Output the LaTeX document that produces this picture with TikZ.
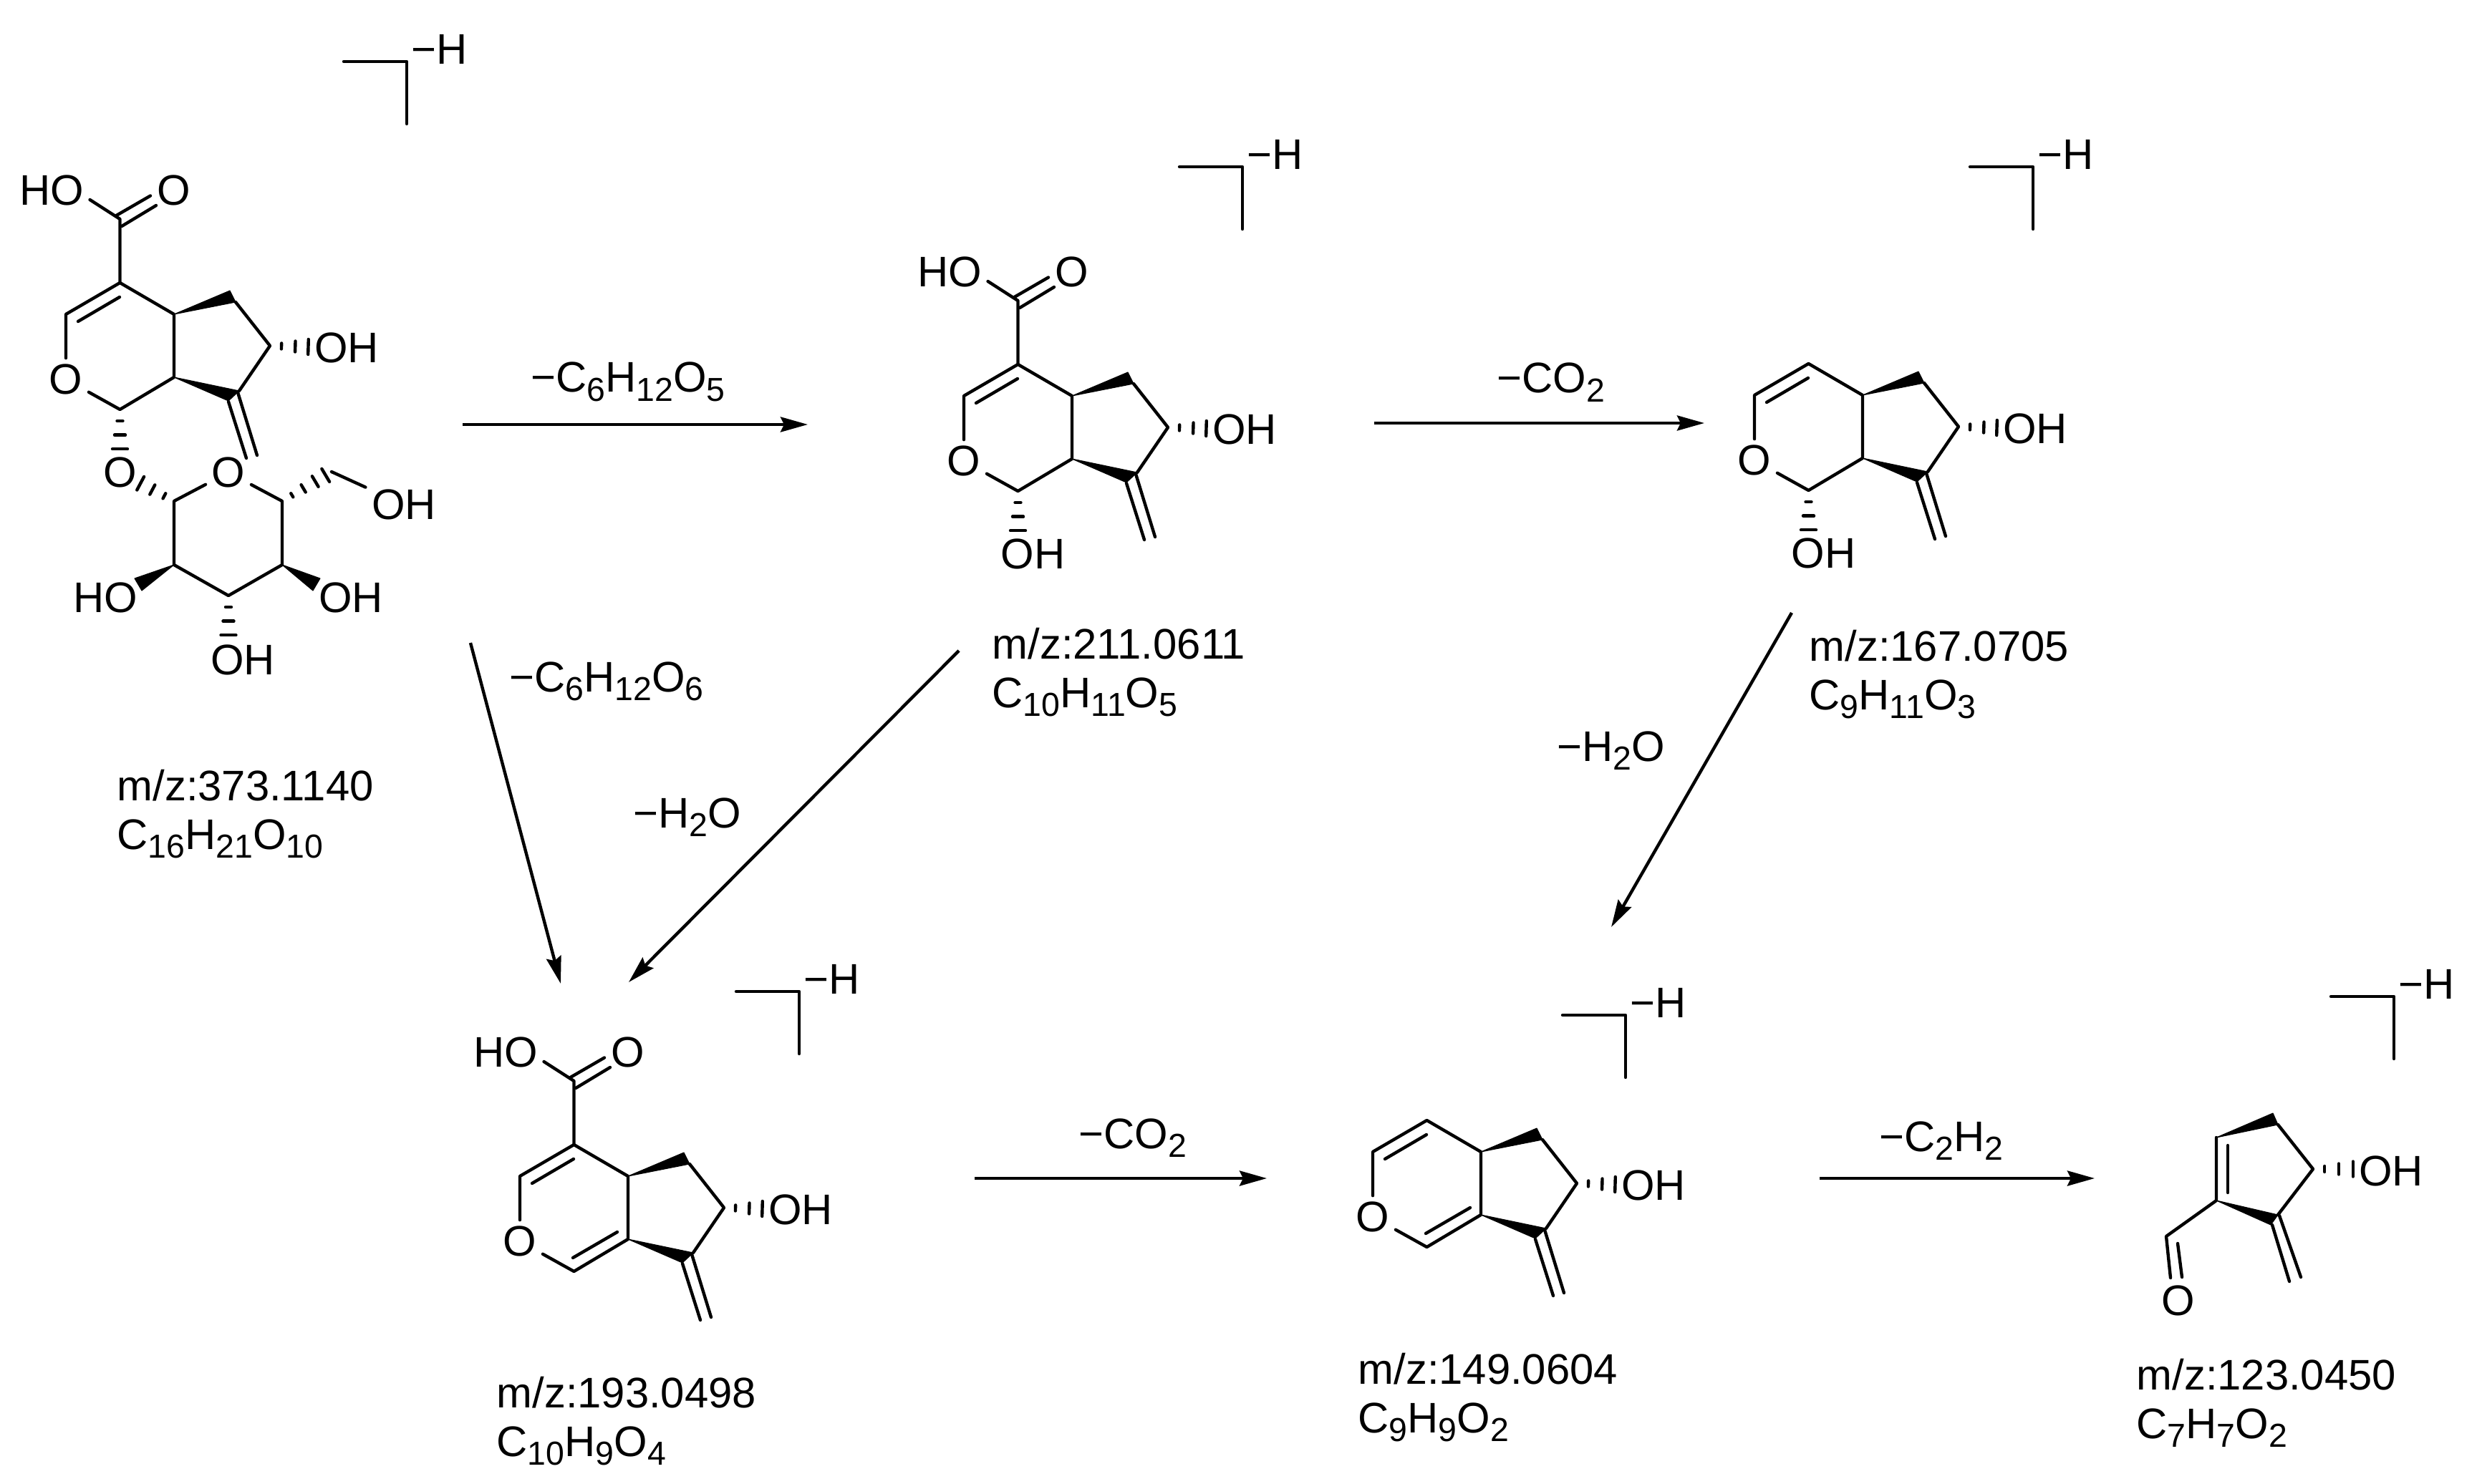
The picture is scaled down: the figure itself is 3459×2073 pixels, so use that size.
\documentclass[tikz,border=0pt]{standalone}
\usepackage{fontspec}
\setmainfont{Liberation Sans}
\usetikzlibrary{arrows.meta, calc}
\newcommand{\chemsub}[1]{\raisebox{-0.12cm}{\fontsize{13.2}{13}\selectfont #1}}
\newcommand{\hashbond}[3][.18/.04,.40/.075,.62/.105]{
    \foreach \f/\w in {#1} {
        \draw[bond] ($(#2)!\f!(#3)!\w cm!90:(#3)$) -- ($(#2)!\f!(#3)!\w cm!-90:(#3)$);
    }
}
\tikzset{
    bond/.style={line width=1.25pt, line cap=round, line join=round},
    wedge/.style={fill=black, draw=black, line width=.3pt, line join=round},
    atom/.style={inner sep=.08cm, font=\fontsize{17}{20}\selectfont},
    tag/.style={inner sep=0, anchor=base west, font=\fontsize{17}{20}\selectfont},
    loss/.style={inner sep=0, anchor=base, font=\fontsize{17}{20}\selectfont},
    step-arrow/.style={line width=1.25pt, -{Stealth[length=.38cm, width=.21cm, inset=.05cm]}},
    ion-bracket/.pic={
        \coordinate (L) at (-88,0);
        \coordinate (C) at (0,0);
        \coordinate (E) at (0,87);
        \draw[bond] (L) -- (C) -- (E);
        \node[atom] (CHARGE) at (46,-17) {−H};
    },
    iridoid/.pic={
        \coordinate (C4a) at (0,0);
        \coordinate (C4)  at (-75.5,-44);
        \coordinate (C3)  at (-151,0);
        \coordinate (C1)  at (-75.5,133);
        \coordinate (C7a) at (0,88);
        \coordinate (C5)  at (86,-17);
        \coordinate (C5b) at (78,-33);
        \coordinate (C6)  at (134,44);
        \coordinate (C7)  at (91,107);
        \coordinate (C7b) at (76,121);
        \coordinate (C1b) at (-75.5,222);
        \coordinate (C6b) at (223,44);
        \coordinate (IN1) at (-134,10);
        \coordinate (IN2) at (-76,-24);
        \coordinate (IN3) at (-77,114);
        \coordinate (IN4) at (-15,78);
        \node[atom] (O)  at (-151,91) {O};
        \node[atom] (OH) at (241,47)  {OH};
        \draw[bond] (O) -- (C3) -- (C4) -- (C4a) -- (C7a) -- (C1) -- (O);
        \draw[bond] (IN1) -- (IN2);
        \draw[bond] (C5) -- (C6) -- (C7);
        \fill[wedge] (C4a) -- (C5b) -- (C5) -- cycle;
        \fill[wedge] (C7a) -- (C7) -- (C7b) -- cycle;
        \draw[bond] (89,109) -- (116,197);
        \draw[bond] (76,122) -- (101,201);
        \hashbond[.15/.04,.33/.075,.50/.105]{C6}{OH}
    },
    carboxyl/.pic={
        \coordinate (C4) at (-75.5,-44);
        \coordinate (C)  at (-75.5,-133);
        \node[atom] (HO) at (-171,-173) {HO};
        \node[atom] (O)  at (0,-173)    {O};
        \draw[bond] (C4) -- (C) -- ($(HO.east)+(0,13)$);
        \draw[bond] (-80.5,-138) -- (-33,-165.5);
        \draw[bond] (-73,-123) -- (-25,-152);
    },
}
\begin{document}
\begin{tikzpicture}[x=.01cm, y=-.01cm]
        \useasboundingbox (0,0) rectangle (3459,2073);

        % STRUCTURE 1
        \pic (M1-) at (243,439) {iridoid};
        \pic (A1-) at (243,439) {carboxyl};
        \pic (B1-) at (568,86)  {ion-bracket};
        \node[atom] (M1O)  at (167.5,660) {O};
        \node[atom] (S1O)  at (319,660)   {O};
        \node[atom] (S1OA) at (564,705)   {OH};
        \node[atom] (S1OB) at (490,835)   {OH};
        \node[atom] (S1OC) at (339,922)   {OH};
        \node[atom] (S1OD) at (147,835)   {HO};
        \coordinate (S1A) at (243,700);
        \coordinate (S1B) at (243,789);
        \coordinate (S1C) at (319,832);
        \coordinate (S1D) at (394,789);
        \coordinate (S1E) at (394,700);
        \coordinate (S1F) at (463,659);
        \coordinate (S1G) at (167.5,660);
        \coordinate (S1H) at (319,921);
        \draw[bond] (S1O) -- (S1A) -- (S1B) -- (S1C) -- (S1D) -- (S1E) -- (S1O);
        \draw[bond] (S1F) -- (S1OA);
        \fill[wedge] (S1B) -- (188,808) -- (198,825) -- cycle;
        \fill[wedge] (S1D) -- (447,808) -- (437,825) -- cycle;
        \hashbond{M1-C1}{M1-C1b}
        \hashbond{S1A}{S1G}
        \hashbond{S1C}{S1H}
        \hashbond[.20/.03,.43/.06,.67/.085,.88/.105]{S1E}{S1F}

        % STRUCTURE 2
        \pic (M2-) at (1497,553) {iridoid};
        \pic (A2-) at (1497,553) {carboxyl};
        \pic (B2-) at (1735,233) {ion-bracket};
        \node[atom] (M2OH) at ($(M2-C1)+(21,88)$) {OH};
        \hashbond{M2-C1}{M2-C1b}

        % STRUCTURE 3
        \pic (M3-) at (2601,552) {iridoid};
        \pic (B3-) at (2839,233) {ion-bracket};
        \node[atom] (M3OH) at ($(M3-C1)+(21,88)$) {OH};
        \hashbond{M3-C1}{M3-C1b}

        % STRUCTURE 4
        \pic (M4-) at (877,1643) {iridoid};
        \pic (A4-) at (877,1643) {carboxyl};
        \pic (B4-) at (1116,1385) {ion-bracket};
        \draw[bond] (M4-IN3) -- (M4-IN4);

        % STRUCTURE 5
        \pic (M5-) at (2068,1609) {iridoid};
        \pic (B5-) at (2270,1418) {ion-bracket};
        \draw[bond] (M5-IN3) -- (M5-IN4);

        % STRUCTURE 6
        \pic (B6-) at (3343,1392) {ion-bracket};
        \node[atom] (M6OH) at (3339,1636) {OH};
        \node[atom] (M6O)  at (3042,1817) {O};
        \coordinate (M6A)  at (3095,1589);
        \coordinate (M6B)  at (3095,1677);
        \coordinate (M6C)  at (3181,1571);
        \coordinate (M6D)  at (3174,1555);
        \coordinate (M6E)  at (3230,1633);
        \coordinate (M6F)  at (3181,1697);
        \coordinate (M6G)  at (3171,1711);
        \coordinate (M6H)  at (3025,1727);
        \coordinate (M6I)  at (3320,1633);
        \coordinate (M6J)  at (3111,1600);
        \coordinate (M6K)  at (3111,1666);
        \draw[bond] (M6C) -- (M6E) -- (M6F);
        \draw[bond] (M6A) -- (M6B) -- (M6H) -- (3031,1785);
        \draw[bond] (M6J) -- (M6K);
        \draw[bond] (3041,1737) -- (3047,1784);
        \draw[bond] (3183,1698) -- (3213,1784);
        \draw[bond] (3173,1711) -- (3197,1790);
        \fill[wedge] (M6A) -- (M6D) -- (M6C) -- cycle;
        \fill[wedge] (M6B) -- (M6F) -- (M6G) -- cycle;
        \hashbond{M6E}{M6I}

        % MASS TAGS
        \node[tag] (MZ1) at (163,1118)  {m/z:373.1140};
        \node[tag] (FM1) at (163,1186)  {C\chemsub{16}H\chemsub{21}O\chemsub{10}};
        \node[tag] (MZ2) at (1385,920)  {m/z:211.0611};
        \node[tag] (FM2) at (1385,988)  {C\chemsub{10}H\chemsub{11}O\chemsub{5}};
        \node[tag] (MZ3) at (2526,923)  {m/z:167.0705};
        \node[tag] (FM3) at (2526,991)  {C\chemsub{9}H\chemsub{11}O\chemsub{3}};
        \node[tag] (MZ4) at (693,1966)  {m/z:193.0498};
        \node[tag] (FM4) at (693,2034)  {C\chemsub{10}H\chemsub{9}O\chemsub{4}};
        \node[tag] (MZ5) at (1896,1933) {m/z:149.0604};
        \node[tag] (FM5) at (1896,2001) {C\chemsub{9}H\chemsub{9}O\chemsub{2}};
        \node[tag] (MZ6) at (2983,1941) {m/z:123.0450};
        \node[tag] (FM6) at (2983,2009) {C\chemsub{7}H\chemsub{7}O\chemsub{2}};

        % ARROWS
        \coordinate (R1S) at (646,593);   \coordinate (R1E) at (1128,593);
        \coordinate (R2S) at (1919,591);  \coordinate (R2E) at (2380,591);
        \coordinate (R3S) at (657,898);   \coordinate (R3E) at (783,1374);
        \coordinate (R4S) at (1339,909);  \coordinate (R4E) at (878,1372);
        \coordinate (R5S) at (2502,856);  \coordinate (R5E) at (2250,1295);
        \coordinate (R6S) at (1361,1646); \coordinate (R6E) at (1769,1646);
        \coordinate (R7S) at (2541,1646); \coordinate (R7E) at (2925,1646);
        \foreach \n in {1,...,7} {
            \draw[step-arrow] (R\n S) -- (R\n E);
        }

        % NEUTRAL LOSSES
        \node[loss] (L1) at (877,548)   {−C\chemsub{6}H\chemsub{12}O\chemsub{5}};
        \node[loss] (L2) at (2166,549)  {−CO\chemsub{2}};
        \node[loss] (L3) at (847,966)   {−C\chemsub{6}H\chemsub{12}O\chemsub{6}};
        \node[loss] (L4) at (960,1156)  {−H\chemsub{2}O};
        \node[loss] (L5) at (2250,1063) {−H\chemsub{2}O};
        \node[loss] (L6) at (1582,1604) {−CO\chemsub{2}};
        \node[loss] (L7) at (2711,1608) {−C\chemsub{2}H\chemsub{2}};

    \end{tikzpicture}
\end{document}
